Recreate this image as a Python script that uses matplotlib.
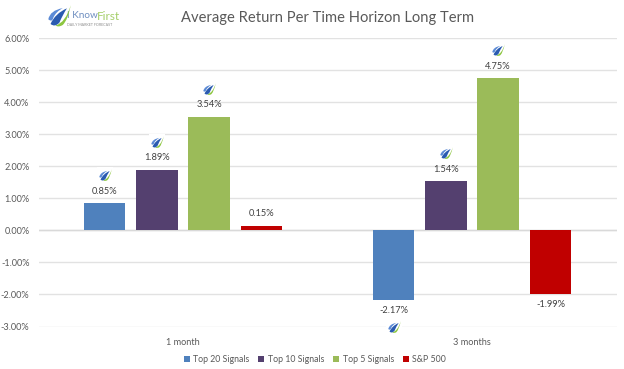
import numpy as np
import matplotlib.pyplot as plt
from matplotlib.path import Path

plt.rcParams['font.family'] = ['Lato', 'DejaVu Sans']

categories = ['1 month', '3 months']
series_names = ['Top 20 Signals', 'Top 10 Signals', 'Top 5 Signals', 'S&P 500']
top20 = [0.85, -2.17]
top10 = [1.89, 1.54]
top5 = [3.54, 4.75]
sp500 = [0.15, -1.99]
colors = ['#4f81bd', '#54406f', '#9bbb59', '#c00000']
yticks = [-3, -2, -1, 0, 1, 2, 3, 4, 5, 6]

# logo swooshes as marker shapes
C3 = Path.CURVE3
blue_leaf = Path([(-1, -0.25), (-0.85, 0.55), (0.3, 0.75), (-0.3, 0.45), (-0.55, -0.1),
                  (-0.65, -0.55), (-1, -0.25)],
                 [Path.MOVETO, C3, C3, C3, C3, C3, C3])
mid_leaf = Path([(-0.6, -0.5), (-0.3, 0.2), (0.5, 0.55), (0.2, 0.1), (0.0, -0.4),
                 (-0.3, -0.75), (-0.6, -0.5)],
                [Path.MOVETO, C3, C3, C3, C3, C3, C3])
green_leaf = Path([(-0.35, -0.8), (0.55, -0.55), (1, 1), (0.75, -0.3), (0.3, -0.75),
                   (-0.1, -1), (-0.35, -0.8)],
                  [Path.MOVETO, C3, C3, C3, C3, C3, C3])


def draw_icon(ax, x, y, size=80, halo=True):
    if halo:
        ax.scatter(x, y, s=size * 1.5, marker='s', color='white', lw=0, clip_on=False, zorder=4)
    ax.scatter(x, y, s=size, marker=blue_leaf, color='#5b8ad6', lw=0, clip_on=False, zorder=5)
    ax.scatter(x, y, s=size, marker=green_leaf, color='#8cc63f', lw=0, clip_on=False, zorder=5)
    ax.scatter(x, y, s=size, marker=mid_leaf, color='#2a5bb0', lw=0, clip_on=False, zorder=5)


fig = plt.figure(figsize=(6.24, 3.69), dpi=100)
ax = fig.add_axes([38.5 / 624, 1 - 326.5 / 369, 578 / 624, 288.5 / 369])

x = np.arange(len(categories))
width = 0.143
step = 0.181
all_series = [top20, top10, top5, sp500]
for i, vals in enumerate(all_series):
    pos = x + (i - 1.5) * step
    ax.bar(pos, vals, width, color=colors[i], label=series_names[i], zorder=3)
    for p, v in zip(pos, vals):
        # S&P bars carry no icon
        if i < 3:
            draw_icon(ax, p, v + (0.87 if v >= 0 else -0.83))
        ax.text(p, v + (0.37 if v >= 0 else -0.33), f'{v:.2f}%', ha='center', va='center',
                fontsize=6.7, color='#404040', zorder=6)

ax.set_xlim(-0.5, 1.5)
ax.set_ylim(-3, 6)
ax.set_yticks(yticks)
ax.set_yticklabels([f'{t:.2f}%' for t in yticks])
ax.set_xticks(x)
ax.set_xticklabels(categories)
ax.tick_params(length=0, labelsize=6.6, labelcolor='#595959')
ax.tick_params(axis='y', pad=6.5)
ax.tick_params(axis='x', pad=8)
ax.grid(axis='y', color='#e2e2e2', lw=1, zorder=0)
ax.axhline(0, color='#d9d9d9', lw=1, zorder=2)
for s in ax.spines.values():
    s.set_visible(False)
ax.text(0.5, 1.07, 'Average Return Per Time Horizon Long Term', transform=ax.transAxes,
        ha='center', va='center', fontsize=10.6, color='#595959')

ax.legend(loc='center', bbox_to_anchor=(0.478, -0.115), ncol=4, frameon=False, fontsize=6.3,
          labelcolor='#595959', handlelength=0.7, handleheight=0.7, handletextpad=0.4,
          columnspacing=1.0)

# logo, top left
logo = fig.add_axes([0, 0, 1, 1], facecolor='none')
logo.set_xlim(0, 624)
logo.set_ylim(369, 0)
logo.axis('off')
draw_icon(logo, 59, 16, size=260, halo=False)
logo.text(67, 16, 'I Know', fontsize=7.2, color='#6f8fc0', va='center')
logo.text(96.5, 16, 'First', fontsize=8.5, color='#a5cf6a', va='center')
logo.text(67, 24.5, 'DAILY MARKET FORECAST', fontsize=2.6, color='#8a8a8a', va='center')

fig.savefig('out.png', dpi=100)
